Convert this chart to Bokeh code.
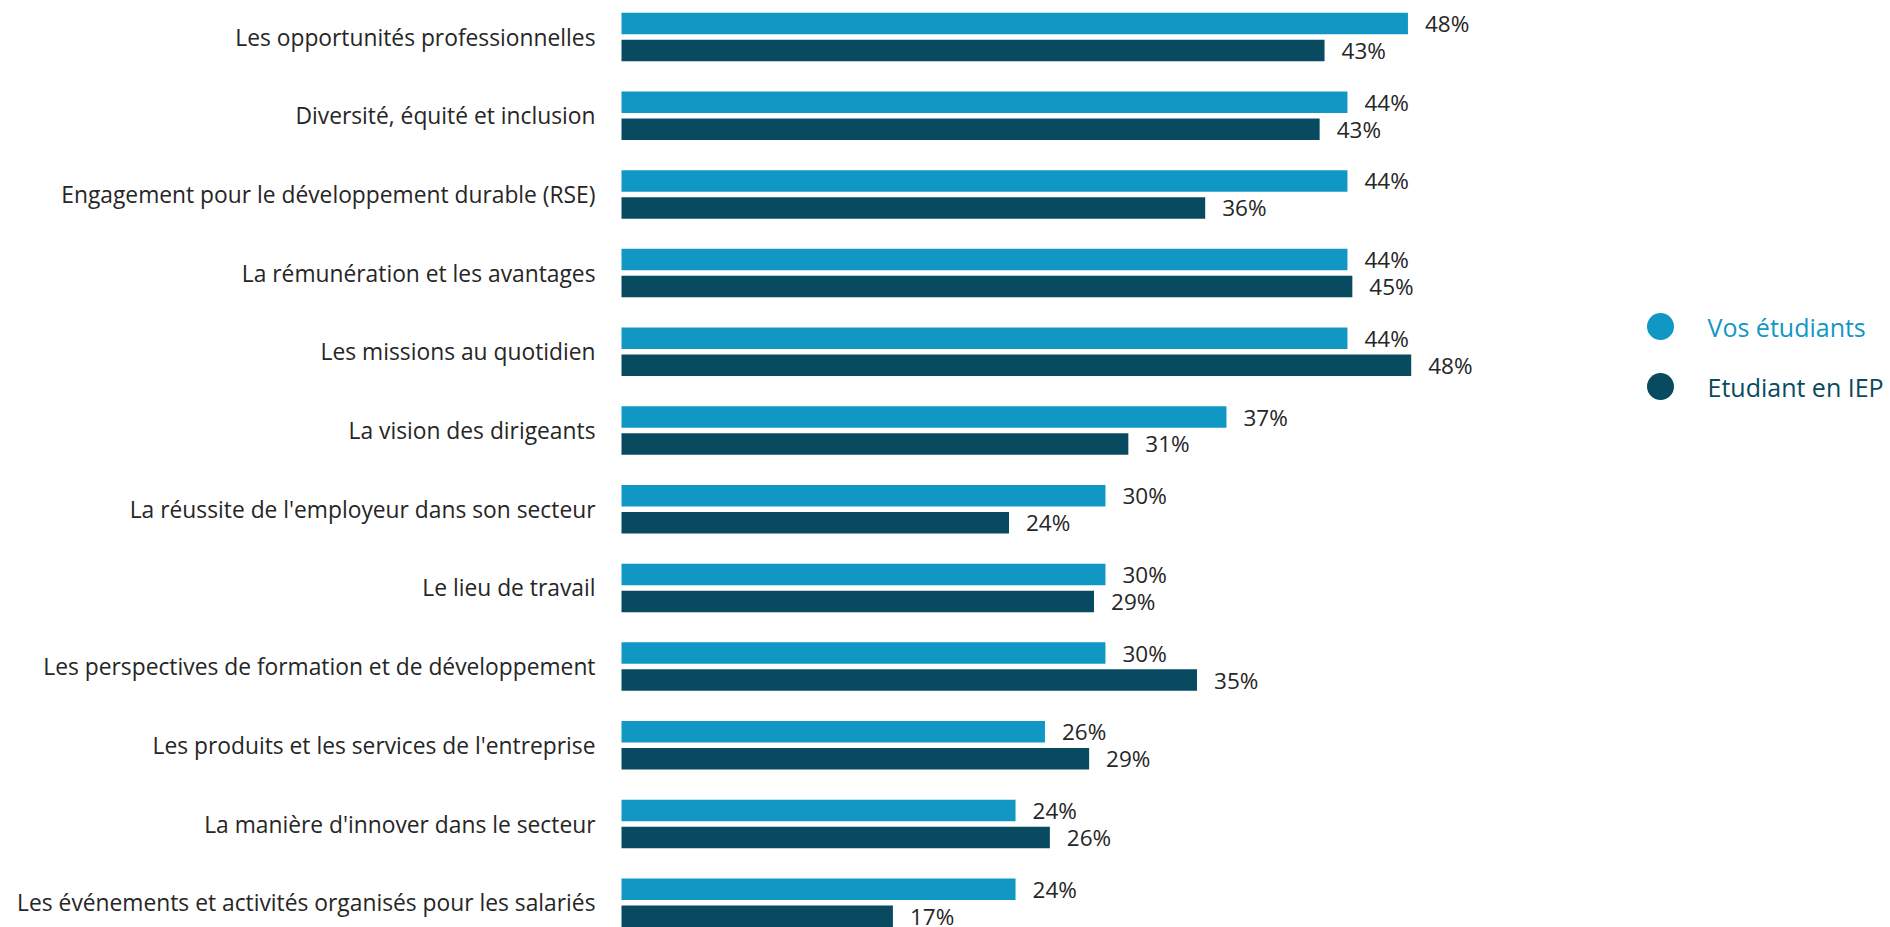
from bokeh.plotting import figure
from bokeh.models import Range1d, ColumnDataSource
from bokeh.transform import dodge
from bokeh.core.properties import value
from bokeh.embed import file_html
from bokeh.resources import INLINE

categories = [
    "Les opportunités professionnelles",
    "Diversité, équité et inclusion",
    "Engagement pour le développement durable (RSE)",
    "La rémunération et les avantages",
    "Les missions au quotidien",
    "La vision des dirigeants",
    "La réussite de l'employeur dans son secteur",
    "Le lieu de travail",
    "Les perspectives de formation et de développement",
    "Les produits et les services de l'entreprise",
    "La manière d'innover dans le secteur",
    "Les événements et activités organisés pour les salariés",
]
vos_etudiants = [48.1, 44.4, 44.4, 44.4, 44.4, 37.0, 29.6, 29.6, 29.6, 25.9, 24.1, 24.1]
etudiant_iep = [43.0, 42.7, 35.7, 44.7, 48.3, 31.0, 23.7, 28.9, 35.2, 28.6, 26.2, 16.6]
series_names = ["Vos étudiants", "Etudiant en IEP"]
series_colors = ["#1197C3", "#084B60"]

FONT = "Open Sans"
TEXT_COLOR = "#262626"

W, H = 1890, 927
PXX = 16.35   # px per percent
X0PX = 621    # canvas px of zero
PXY = 78.7    # px per category
Y0PX = 36.5   # canvas px of first category centre

x_range = Range1d(-X0PX / PXX, (W - X0PX) / PXX)
y_range = Range1d((H - Y0PX) / PXY, -Y0PX / PXY)

p = figure(width=W, height=H, x_range=x_range, y_range=y_range,
           x_axis_type=None, y_axis_type=None,
           output_backend="svg", toolbar_location=None, min_border=0)
p.grid.visible = False
p.outline_line_color = None
p.background_fill_color = "white"

src = ColumnDataSource(dict(
    idx=list(range(len(categories))),
    cat=categories,
    vos=vos_etudiants,
    iep=etudiant_iep,
    vos_lbl=[f"{round(v)}%" for v in vos_etudiants],
    iep_lbl=[f"{round(v)}%" for v in etudiant_iep],
))

OFF = 0.1715
BH = 0.273
for col, lbl, off, color in [("vos", "vos_lbl", -OFF, series_colors[0]),
                             ("iep", "iep_lbl", OFF, series_colors[1])]:
    p.hbar(y=dodge("idx", off), left=0, right=col, height=BH, source=src,
           fill_color=color, line_color=None)
    p.text(x=col, y=dodge("idx", off), text=lbl, source=src, x_offset=17,
           text_align="left", text_baseline="middle",
           text_font=value(FONT), text_font_size="22.5px", text_color=TEXT_COLOR)

p.text(x=0, y="idx", text="cat", source=src, x_offset=-26,
       text_align="right", text_baseline="middle",
       text_font=value(FONT), text_font_size="22.8px", text_color=TEXT_COLOR)

# legend (custom, right side)
leg_px_x = 1660
leg_px_y = [326, 386]
lx = [x_range.start + leg_px_x / PXX] * 2
ly = [y_range.end + py / PXY for py in leg_px_y]
tx = [x_range.start + (leg_px_x + 47) / PXX] * 2
leg = ColumnDataSource(dict(x=lx, y=ly, tx=tx, name=series_names, color=series_colors))
p.scatter(x="x", y="y", size=27, fill_color="color", line_color=None, source=leg)
p.text(x="tx", y="y", text="name", text_color="color", source=leg,
       text_align="left", text_baseline="middle",
       text_font=value(FONT), text_font_size="25px")

open("out.html", "w").write(file_html(p, INLINE))
